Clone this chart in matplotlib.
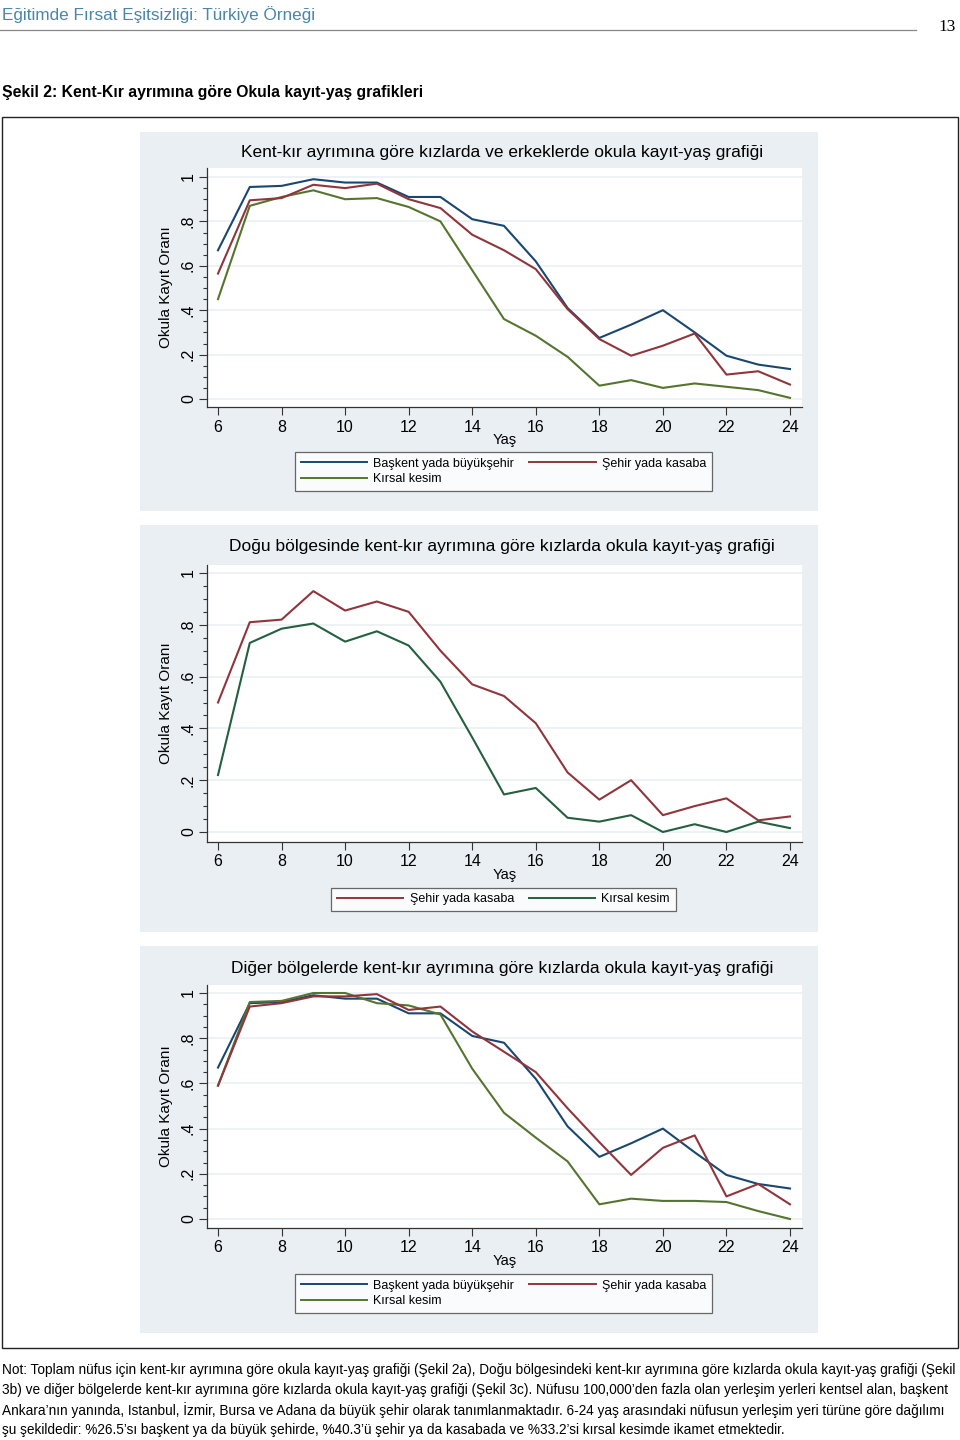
import numpy as np
import matplotlib
matplotlib.use('Agg')
import matplotlib.pyplot as plt
from matplotlib.patches import Rectangle
from matplotlib.lines import Line2D
from matplotlib.ticker import MultipleLocator

plt.rcParams['font.family'] = ['Liberation Sans', 'DejaVu Sans']

# ---- data ----
yas = [6, 7, 8, 9, 10, 11, 12, 13, 14, 15, 16, 17, 18, 19, 20, 21, 22, 23, 24]

# Sekil 2a: toplam
a_baskent = [0.67, 0.955, 0.96, 0.99, 0.975, 0.975, 0.91, 0.91, 0.81, 0.78, 0.62,
             0.41, 0.275, 0.335, 0.40, 0.30, 0.195, 0.155, 0.135]
a_sehir = [0.565, 0.895, 0.905, 0.965, 0.95, 0.97, 0.90, 0.86, 0.74, 0.67, 0.585,
           0.405, 0.27, 0.195, 0.24, 0.295, 0.11, 0.125, 0.065]
a_kirsal = [0.45, 0.87, 0.91, 0.94, 0.90, 0.905, 0.865, 0.80, 0.58, 0.36, 0.285,
            0.19, 0.06, 0.085, 0.05, 0.07, 0.055, 0.04, 0.005]

# Sekil 2b: Dogu bolgesi, kizlar
b_sehir = [0.50, 0.81, 0.82, 0.93, 0.855, 0.89, 0.85, 0.70, 0.57, 0.525, 0.42,
           0.23, 0.125, 0.20, 0.065, 0.10, 0.13, 0.045, 0.06]
b_kirsal = [0.22, 0.73, 0.785, 0.805, 0.735, 0.775, 0.72, 0.58, 0.365, 0.145, 0.17,
            0.055, 0.04, 0.065, 0.0, 0.03, 0.0, 0.04, 0.015]

# Sekil 2c: diger bolgeler, kizlar
c_baskent = [0.67, 0.955, 0.96, 0.99, 0.975, 0.975, 0.91, 0.91, 0.81, 0.78, 0.62,
             0.41, 0.275, 0.335, 0.40, 0.295, 0.195, 0.155, 0.135]
c_sehir = [0.59, 0.94, 0.955, 0.985, 0.985, 0.995, 0.925, 0.94, 0.83, 0.74, 0.65,
           0.49, 0.34, 0.195, 0.315, 0.37, 0.10, 0.155, 0.065]
c_kirsal = [0.59, 0.96, 0.965, 1.0, 1.0, 0.955, 0.945, 0.905, 0.665, 0.47, 0.36,
            0.255, 0.065, 0.09, 0.08, 0.08, 0.075, 0.035, 0.0]

titles = ['Kent-kır ayrımına göre kızlarda ve erkeklerde okula kayıt-yaş grafiği',
          'Doğu bölgesinde kent-kır ayrımına göre kızlarda okula kayıt-yaş grafiği',
          'Diğer bölgelerde kent-kır ayrımına göre kızlarda okula kayıt-yaş grafiği']
lbl_baskent = 'Başkent yada büyükşehir'
lbl_sehir = 'Şehir yada kasaba'
lbl_kirsal = 'Kırsal kesim'

not_lines = [
    'Not: Toplam nüfus için kent-kır ayrımına göre okula kayıt-yaş grafiği (Şekil 2a), Doğu bölgesindeki kent-kır ayrımına göre kızlarda okula kayıt-yaş grafiği (Şekil',
    '3b) ve diğer bölgelerde kent-kır ayrımına göre kızlarda okula kayıt-yaş grafiği (Şekil 3c). Nüfusu 100,000’den fazla olan yerleşim yerleri kentsel alan, başkent',
    'Ankara’nın yanında, Istanbul, İzmir, Bursa ve Adana da büyük şehir olarak tanımlanmaktadır. 6-24 yaş arasındaki nüfusun yerleşim yeri türüne göre dağılımı',
    'şu şekildedir: %26.5’sı başkent ya da büyük şehirde, %40.3’ü şehir ya da kasabada ve %33.2’si kırsal kesimde ikamet etmektedir.',
]

# ---- styling ----
NAVY = '#1a476f'
MAROON = '#90353b'
FGREEN = '#55752f'
DKGREEN = '#24603f'
BG = '#e9eff2'
GRID = '#eaf0f2'

W, H = 960, 1440
fig = plt.figure(figsize=(W / 100, H / 100), dpi=100)
fig.patch.set_facecolor('white')


def fx(px):
    return px / W


def fy(py):
    return 1 - py / H


def frect(x0, y0, x1, y1, **kw):
    r = Rectangle((fx(x0), fy(y1)), fx(x1) - fx(x0), fy(y0) - fy(y1),
                  transform=fig.transFigure, **kw)
    fig.add_artist(r)


# header
fig.text(fx(2), fy(15), 'Eğitimde Fırsat Eşitsizliği: Türkiye Örneği',
         fontsize=12.3, color='#4a86a8', va='center', ha='left')
fig.add_artist(Line2D([fx(0), fx(916)], [fy(30), fy(30)], color='#888888',
                      lw=0.9, transform=fig.transFigure))
fig.text(fx(947), fy(27), '13', fontsize=12.5, family='Liberation Serif',
         va='center', ha='center')
fig.text(fx(2), fy(92), 'Şekil 2: Kent-Kır ayrımına göre Okula kayıt-yaş grafikleri',
         fontsize=11.3, fontweight='bold', va='center', ha='left')

# outer frame
frect(2, 117, 958, 1348, facecolor='none', edgecolor='#222222', lw=1.0)

# panels: (bg top, bg bottom, plot top, plot bottom, y0 px, y1 px, title y, legend y)
panels = [
    (132, 511, 168, 407, 399, 177, 152, 471.5),
    (525, 932, 565, 842, 832, 573, 547, 899.5),
    (946, 1333, 985, 1228, 1219, 993, 969, 1293.5),
]
series = [
    [(a_baskent, NAVY, lbl_baskent), (a_kirsal, FGREEN, lbl_kirsal), (a_sehir, MAROON, lbl_sehir)],
    [(b_sehir, MAROON, lbl_sehir), (b_kirsal, DKGREEN, lbl_kirsal)],
    [(c_baskent, NAVY, lbl_baskent), (c_kirsal, FGREEN, lbl_kirsal), (c_sehir, MAROON, lbl_sehir)],
]

x_left, x_right = 207, 802
x6, x24 = 218, 790
upx = (x24 - x6) / 18.0
xlim = (6 - (x6 - x_left) / upx, 24 + (x_right - x24) / upx)

for k, (bt, bb, pt, pb, y0, y1, ty, ly) in enumerate(panels):
    frect(140, bt, 818, bb, facecolor=BG, edgecolor='none', zorder=0)
    ax = fig.add_axes([fx(x_left), fy(pb), fx(x_right) - fx(x_left), fy(pt) - fy(pb)])
    ax.set_facecolor('white')
    vpx = (y0 - y1) / 1.0
    ax.set_xlim(*xlim)
    ax.set_ylim(-(pb - y0) / vpx, 1 + (y1 - pt) / vpx)

    handles = []
    for (vals, col, lbl) in series[k]:
        h, = ax.plot(yas, vals, color=col, lw=1.5, label=lbl, zorder=3)
        handles.append(h)

    ax.set_xticks(range(6, 25, 2))
    ax.set_yticks(np.arange(0, 1.01, 0.2))
    ax.set_yticklabels(['0', '.2', '.4', '.6', '.8', '1'])
    ax.yaxis.set_minor_locator(MultipleLocator(0.05))
    ax.tick_params(axis='y', labelrotation=90, labelsize=11.5, length=6,
                   width=0.8, color='#333333', pad=2)
    ax.tick_params(axis='y', which='minor', length=3, width=0.8, color='#333333')
    ax.tick_params(axis='x', labelsize=11.5, length=6, width=0.8,
                   color='#333333', pad=3)
    for lab in ax.get_yticklabels():
        lab.set_va('center')
    ax.grid(axis='y', which='major', color=GRID, lw=1.2, zorder=0)
    ax.set_axisbelow(True)
    for s in ['top', 'right']:
        ax.spines[s].set_visible(False)
    for s in ['left', 'bottom']:
        ax.spines[s].set_color('#333333')
        ax.spines[s].set_linewidth(0.9)
    ax.set_xlabel('Yaş', fontsize=10.5, labelpad=-1)
    ax.set_ylabel('Okula Kayıt Oranı', fontsize=11, labelpad=6)

    fig.text(fx(502), fy(ty), titles[k], fontsize=12.5, ha='center', va='center')

    leg = fig.legend(handles=handles, loc='center', ncol=2,
                     bbox_to_anchor=(fx(503.5), fy(ly)), fontsize=9,
                     handlelength=5.3, handletextpad=0.5, columnspacing=1.2,
                     frameon=True, fancybox=False, borderpad=0.45,
                     labelspacing=0.3)
    leg.get_frame().set_edgecolor('#444444')
    leg.get_frame().set_linewidth(0.9)
    for ln in leg.get_lines():
        ln.set_linewidth(1.4)

# footnote
for i, line in enumerate(not_lines):
    fig.text(fx(2), fy(1370 + 20 * i), line, fontsize=9.8, ha='left', va='center')

fig.savefig('out.png', dpi=100)
